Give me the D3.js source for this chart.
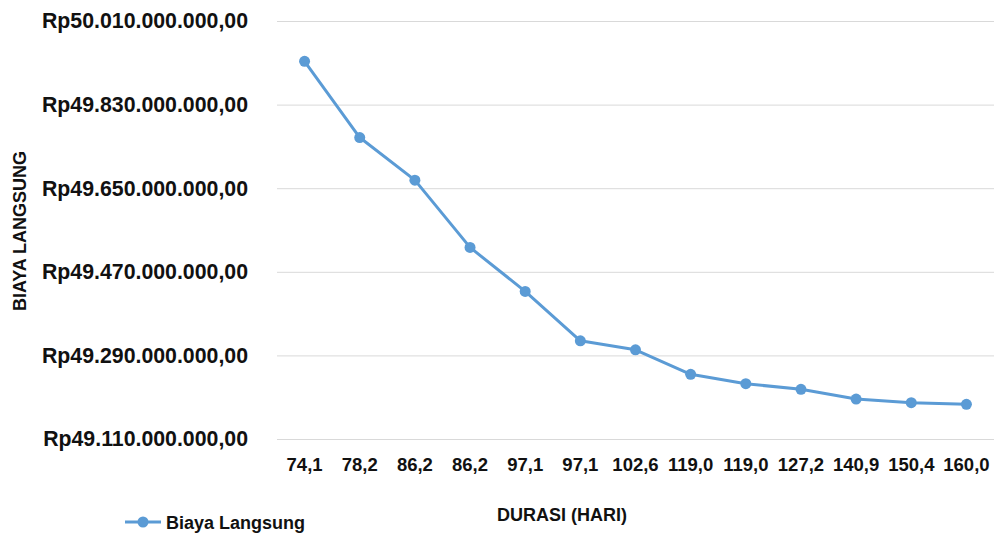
<!DOCTYPE html>
<html>
<head>
<meta charset="utf-8">
<script src="https://cdn.jsdelivr.net/npm/d3@7"></script>
<style>
  body { margin: 0; background: #fff; }
  svg text { font-family: 'Liberation Sans', Arial, sans-serif; font-weight: bold; fill: #111; }
</style>
</head>
<body>
<div id="chart"></div>
<script>
// --- Data ---
const durations = ['74,1', '78,2', '86,2', '86,2', '97,1', '97,1', '102,6', '119,0', '119,0', '127,2', '140,9', '150,4', '160,0'];
const directCost = [49923300000, 49759100000, 49667300000, 49522500000, 49427800000, 49321500000, 49302100000,
                    49249200000, 49229000000, 49216900000, 49196000000, 49188100000, 49184700000];
const yTicks = [49110000000, 49290000000, 49470000000, 49650000000, 49830000000, 50010000000];
const seriesName = 'Biaya Langsung';

const width = 998, height = 539;
const margin = { top: 21, right: 4, bottom: 100, left: 277 };
const lineColor = '#5b9bd5';

const svg = d3.select('#chart').append('svg')
    .attr('width', width)
    .attr('height', height);

const x = d3.scaleBand()
    .domain(d3.range(durations.length))
    .range([margin.left, width - margin.right]);

const y = d3.scaleLinear()
    .domain([yTicks[0], yTicks[yTicks.length - 1]])
    .range([height - margin.bottom, margin.top]);

// rupiah formatting like "Rp49.110.000.000,00"
const fmtRp = v => 'Rp' + d3.format(',')(v).replace(/,/g, '.') + ',00';

// gridlines + y labels
const yAxis = svg.append('g')
    .attr('transform', `translate(${margin.left},0)`)
    .call(d3.axisLeft(y).tickValues(yTicks).tickFormat(fmtRp)
        .tickSize(-(width - margin.left - margin.right)).tickPadding(29));
yAxis.select('.domain').remove();
yAxis.selectAll('line').attr('stroke', '#d9d9d9');
yAxis.selectAll('text').style('font-size', '21.3px').attr('fill', '#111');

// x labels
const xAxis = svg.append('g')
    .attr('transform', `translate(0,${height - margin.bottom})`)
    .call(d3.axisBottom(x).tickFormat(i => durations[i]).tickSize(0).tickPadding(19));
xAxis.select('.domain').remove();
xAxis.selectAll('text').style('font-size', '18.5px').attr('fill', '#111');

// line
const cx = i => x(i) + x.bandwidth() / 2;
const line = d3.line()
    .x((d, i) => cx(i))
    .y(d => y(d));

svg.append('path')
    .datum(directCost)
    .attr('fill', 'none')
    .attr('stroke', lineColor)
    .attr('stroke-width', 3)
    .attr('stroke-linejoin', 'round')
    .attr('d', line);

svg.selectAll('.dot')
    .data(directCost)
    .enter()
    .append('circle')
    .attr('class', 'dot')
    .attr('cx', (d, i) => cx(i))
    .attr('cy', d => y(d))
    .attr('r', 5.5)
    .attr('fill', lineColor);

// axis titles
svg.append('text')
    .attr('x', 562).attr('y', 521)
    .attr('text-anchor', 'middle')
    .style('font-size', '18px')
    .text('DURASI (HARI)');

svg.append('text')
    .attr('transform', 'translate(26,231) rotate(-90)')
    .attr('text-anchor', 'middle')
    .style('font-size', '18px')
    .text('BIAYA LANGSUNG');

// legend
const lg = svg.append('g').attr('transform', 'translate(125,522)');
lg.append('line').attr('x1', 0).attr('x2', 36).attr('y1', 0).attr('y2', 0)
    .attr('stroke', lineColor).attr('stroke-width', 3);
lg.append('circle').attr('cx', 18).attr('cy', 0).attr('r', 5.5).attr('fill', lineColor);
lg.append('text').attr('x', 41).attr('y', 6.5)
    .style('font-size', '18px')
    .text(seriesName);
</script>
</body>
</html>
